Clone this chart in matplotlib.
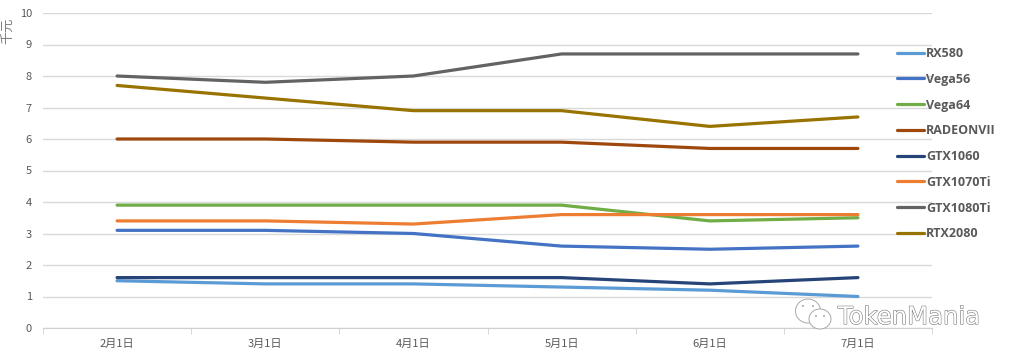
import matplotlib
matplotlib.use("Agg")
import matplotlib.pyplot as plt
import matplotlib.patheffects as pe
from matplotlib.patches import Ellipse

plt.rcParams['font.family'] = ['Noto Sans CJK SC', 'DejaVu Sans']

months = ['2月1日', '3月1日', '4月1日', '5月1日', '6月1日', '7月1日']
rx580 = [1.5, 1.4, 1.4, 1.3, 1.2, 1.0]
vega56 = [3.1, 3.1, 3.0, 2.6, 2.5, 2.6]
vega64 = [3.9, 3.9, 3.9, 3.9, 3.4, 3.5]
radeon7 = [6.0, 6.0, 5.9, 5.9, 5.7, 5.7]
gtx1060 = [1.6, 1.6, 1.6, 1.6, 1.4, 1.6]
gtx1070ti = [3.4, 3.4, 3.3, 3.6, 3.6, 3.6]
gtx1080ti = [8.0, 7.8, 8.0, 8.7, 8.7, 8.7]
rtx2080 = [7.7, 7.3, 6.9, 6.9, 6.4, 6.7]

names = ['RX580', 'Vega56', 'Vega64', 'RADEONVII', 'GTX1060', 'GTX1070Ti', 'GTX1080Ti', 'RTX2080']
values = [rx580, vega56, vega64, radeon7, gtx1060, gtx1070ti, gtx1080ti, rtx2080]
colors = ['#5B9BD5', '#4472C4', '#70AD47', '#9E480E', '#264478', '#ED7D31', '#636363', '#997300']

W, H = 1013, 358
fig = plt.figure(figsize=(W / 100, H / 100), dpi=100, facecolor='white')
ax = fig.add_axes([43 / W, 1 - 328 / H, (932 - 43) / W, (328 - 13) / H])

x = list(range(len(months)))
for name, vals, c in zip(names, values, colors):
    ax.plot(x, vals, color=c, lw=2.3, label=name, solid_capstyle='round', zorder=3)

ax.set_xlim(-0.5, 5.5)
ax.set_ylim(0, 10)
ax.set_yticks(range(11))
ax.set_xticks(x)
ax.set_xticklabels(months)
ax.grid(axis='y', color='#D9D9D9', lw=1)
ax.set_axisbelow(True)
for s in ['top', 'right', 'left']:
    ax.spines[s].set_visible(False)
ax.spines['bottom'].set_color('#D0D0D0')
ax.tick_params(axis='y', length=0, labelsize=8, labelcolor='#595959', pad=8)
ax.tick_params(axis='x', length=0, labelsize=8, labelcolor='#595959', pad=8)
ax.set_xticks([i - 0.5 for i in range(len(months) + 1)], minor=True)
ax.tick_params(axis='x', which='minor', length=4, color='#D0D0D0', direction='out')

fig.text(8 / W, 1 - 31 / H, '千元', rotation=90, ha='center', va='center', fontsize=9.5, color='#7F7F7F')

leg = ax.legend(loc='upper left', bbox_to_anchor=(897 / W, 1 - 47 / H), bbox_transform=fig.transFigure,
                frameon=False, borderpad=0, borderaxespad=0, handlelength=2.15, handletextpad=0.15,
                labelspacing=1.02, prop={'family': 'Open Sans', 'weight': 'bold', 'size': 9})
for t in leg.get_texts():
    t.set_color('#595959')

# watermark
fig.text(838 / W, 1 - 317 / H, 'TokenMania', ha='left', va='center', fontsize=17.5,
         family='DejaVu Sans', color='white', zorder=10,
         path_effects=[pe.withStroke(linewidth=0.8, foreground='#777777')])
for cx, cy, w, h in [(808, 311, 25, 24), (820, 319, 22, 20)]:
    fig.add_artist(Ellipse((cx / W, 1 - cy / H), w / W, h / H, transform=fig.transFigure,
                           fc='white', ec='#A8A8A8', lw=0.7, zorder=9))
for cx, cy in [(803, 306), (813, 306), (816, 316), (824, 316)]:
    fig.add_artist(Ellipse((cx / W, 1 - cy / H), 2 / W, 2 / H, transform=fig.transFigure,
                           fc='#A8A8A8', ec='none', zorder=9))

fig.savefig('out.png', dpi=100, facecolor='white')
